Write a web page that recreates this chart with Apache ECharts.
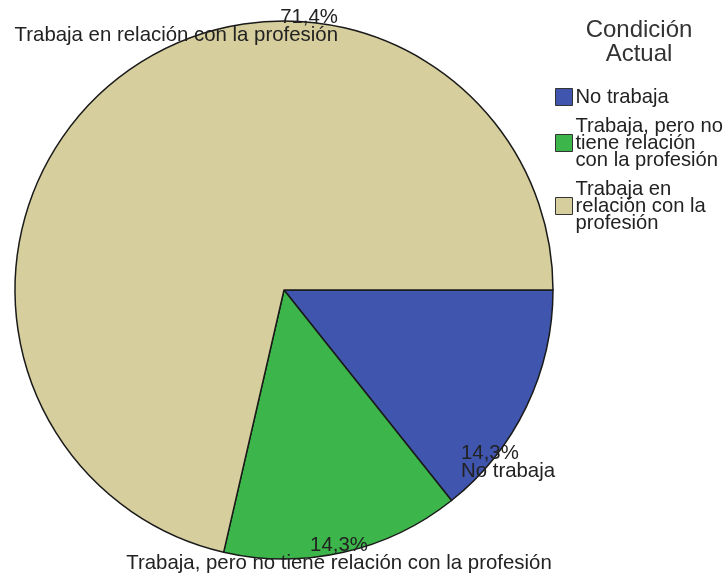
<!DOCTYPE html>
<html>
<head>
<meta charset="utf-8">
<script src="https://cdn.jsdelivr.net/npm/echarts@6/dist/echarts.min.js"></script>
<style>html,body{margin:0;padding:0;background:#fff}#c{width:727px;height:577px}</style>
</head>
<body>
<div id="c"></div>
<script>
var categories = ['No trabaja', 'Trabaja, pero no tiene relación con la profesión', 'Trabaja en relación con la profesión'];
var percents = [14.3, 14.3, 71.4];
var legendNames = ['No trabaja', 'Trabaja, pero no\ntiene relación\ncon la profesión', 'Trabaja en\nrelación con la\nprofesión'];
var legendTitle = 'Condición\nActual';

var colors = ['#4055ad', '#3cb64a', '#d6ce9c'];
var FONT = 'Arial, "Liberation Sans", sans-serif';
// label anchors (style only)
var labelPos = [
  {x: 461, y: 462, align: 'left'},
  {x: 339, y: 554, align: 'center'},
  {x: 338, y: 26, align: 'right'}
];

var chart = echarts.init(document.getElementById('c'));
chart.setOption({
  animation: false,
  backgroundColor: '#fff',
  color: colors,
  title: {
    text: legendTitle,
    left: 639, top: 18, textAlign: 'center', padding: 0,
    textStyle: {fontFamily: FONT, fontWeight: 'normal', fontSize: 24, color: '#333', lineHeight: 24}
  },
  legend: {
    orient: 'vertical',
    left: 555, top: 87, padding: 0,
    itemWidth: 17, itemHeight: 17, itemGap: 9,
    icon: 'rect',
    data: categories,
    formatter: function (n) { return legendNames[categories.indexOf(n)]; },
    itemStyle: {borderColor: '#333', borderWidth: 1},
    textStyle: {fontFamily: FONT, fontSize: 20.2, color: '#222', lineHeight: 17, padding: [0, 0, 0, -2]}
  },
  series: [{
    type: 'pie',
    center: [284, 290],
    radius: 269,
    startAngle: 0,
    clockwise: true,
    data: categories.map(function (c, i) { return {name: c, value: percents[i]}; }),
    itemStyle: {borderColor: '#1a1a1a', borderWidth: 1.5},
    label: {
      show: true,
      position: 'outside',
      alignTo: 'none',
      overflow: 'none',
      formatter: function (p) { return String(percents[p.dataIndex]).replace('.', ',') + '%\n' + p.name; },
      fontFamily: FONT, fontSize: 20.4, color: '#222', lineHeight: 18
    },
    labelLine: {show: false},
    labelLayout: function (p) {
      var lp = labelPos[p.dataIndex];
      return {x: lp.x, y: lp.y, align: lp.align, verticalAlign: 'middle', hideOverlap: false, moveOverlap: false};
    },
    emphasis: {disabled: true}
  }]
});
</script>
</body>
</html>
